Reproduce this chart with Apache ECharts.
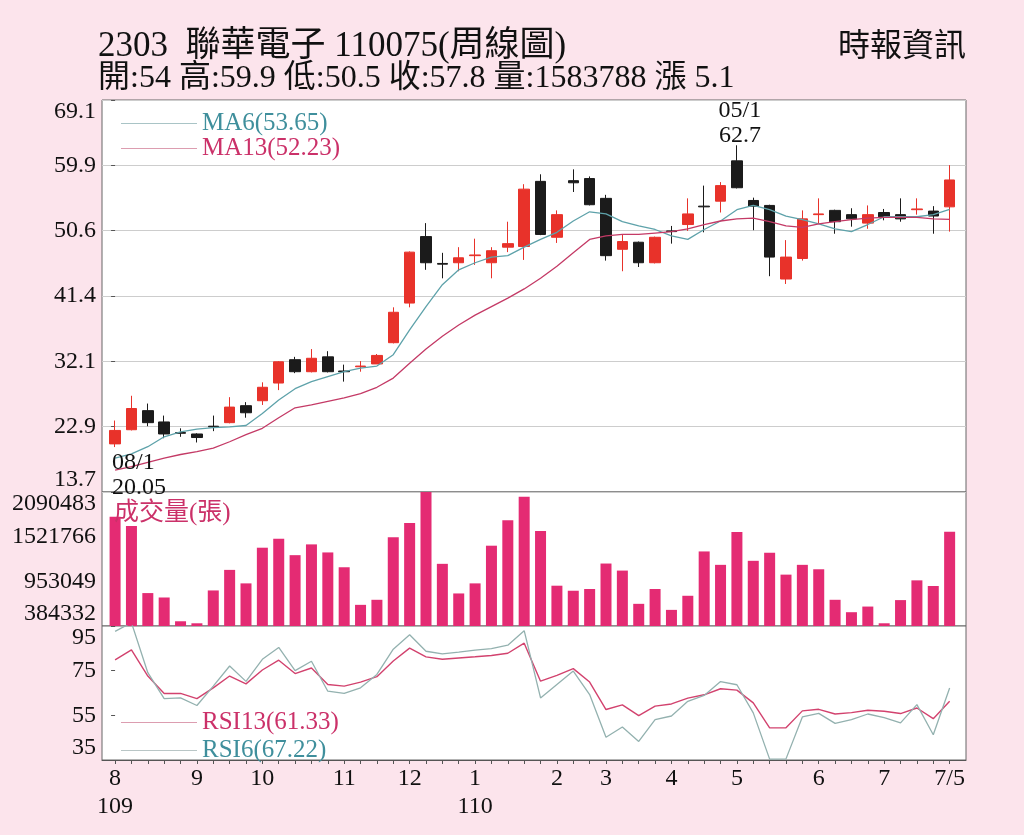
<!DOCTYPE html>
<html>
<head>
<meta charset="utf-8">
<title>聯華電子 周線圖</title>
<script src="https://cdn.jsdelivr.net/npm/echarts@6.0.0/dist/echarts.min.js"></script>
<style>
  html, body { margin: 0; padding: 0; background: #fce4ec; }
  #chart { width: 1024px; height: 835px; }
</style>
</head>
<body>
<div id="chart"></div>
<script>
const SERIF = 'Liberation Serif, "Noto Sans CJK TC", serif';

// 週K: 開, 收, 低, 高
const ohlc = [
  [20.5, 22.4, 20.05, 23.8], [22.5, 25.5, 22.4, 27.3], [25.2, 23.5, 23.0, 26.2], [23.6, 21.9, 21.3, 24.5],
  [22.1, 22.0, 21.5, 22.7], [21.9, 21.4, 20.7, 22.0], [23.0, 22.9, 22.3, 24.5], [23.5, 25.7, 23.4, 27.1],
  [25.9, 24.9, 24.2, 26.4], [26.6, 28.5, 26.0, 29.2], [29.1, 32.1, 28.1, 32.2], [32.4, 30.7, 30.5, 32.8],
  [30.7, 32.6, 30.6, 33.9], [32.8, 30.7, 30.6, 33.6], [30.8, 30.7, 29.3, 31.7], [31.4, 31.5, 30.7, 32.2],
  [31.8, 33.0, 31.8, 33.2], [34.8, 39.1, 34.7, 39.8], [40.4, 47.6, 39.8, 47.7], [49.8, 46.1, 45.1, 51.7],
  [46.0, 45.9, 43.9, 47.5], [46.1, 46.8, 44.9, 48.3], [47.1, 47.2, 45.8, 49.5], [46.1, 47.8, 43.9, 48.3],
  [48.3, 48.8, 47.6, 51.9], [48.4, 56.5, 46.5, 57.2], [57.6, 50.1, 50.0, 58.6], [49.7, 52.9, 48.9, 53.5],
  [57.7, 57.4, 56.1, 59.3], [58.0, 54.3, 54.2, 58.3], [55.2, 47.1, 46.4, 55.7], [48.0, 49.1, 44.9, 50.1],
  [49.0, 46.1, 45.5, 49.1], [46.1, 49.7, 46.0, 49.8], [50.6, 50.5, 48.8, 51.3], [51.5, 53.0, 50.6, 55.2],
  [54.1, 54.0, 50.4, 57.0], [54.8, 57.0, 53.2, 57.5], [60.5, 56.7, 56.6, 62.7], [54.9, 54.1, 50.7, 55.3],
  [54.2, 46.9, 44.2, 54.3], [43.8, 46.9, 43.1, 49.3], [46.7, 52.3, 46.4, 53.5], [52.9, 53.0, 51.7, 55.2],
  [53.5, 51.9, 50.2, 53.6], [52.9, 52.3, 51.2, 53.8], [51.7, 52.9, 50.9, 54.2], [53.2, 52.6, 52.1, 53.7],
  [52.9, 52.3, 51.9, 55.2], [53.6, 53.7, 52.9, 55.2], [53.4, 52.7, 50.2, 54.1], [54.0, 57.8, 50.5, 59.9]
];

const ma6 = [
  18.5, 19.1, 20.1, 21.5, 22.2, 22.6, 22.8, 22.9, 23.1, 24.8, 26.7, 28.3, 29.3,
  30.0, 30.7, 31.2, 31.5, 33.1, 36.6, 39.9, 43.0, 45.1, 46.1, 46.9, 47.1, 48.3,
  49.4, 50.4, 52.0, 53.3, 53.0, 51.9, 51.3, 50.8, 49.9, 49.4, 50.8, 52.0, 53.6,
  54.2, 53.6, 52.7, 52.2, 51.6, 50.9, 50.5, 51.5, 52.6, 52.6, 52.6, 52.9, 53.65
];

const ma13 = [
  16.8, 17.3, 17.9, 18.5, 19.0, 19.4, 19.9, 20.8, 21.8, 22.7, 24.2, 25.6, 26.0,
  26.5, 27.0, 27.6, 28.5, 29.8, 31.9, 33.9, 35.7, 37.3, 38.7, 39.9, 41.1, 42.4,
  43.9, 45.6, 47.5, 49.4, 49.9, 50.1, 50.1, 50.3, 50.5, 50.9, 51.5, 52.0, 52.3,
  52.4, 51.9, 51.3, 51.1, 51.6, 51.9, 52.2, 52.4, 52.5, 52.5, 52.5, 52.3, 52.23
];

const volume = [
  1773800, 1658300, 803500, 747300, 444600, 419000, 837100, 1098800, 927000, 1381200,
  1496500, 1286300, 1423500, 1321000, 1132300, 653700, 718000, 1513300, 1696900, 2090483,
  1175900, 798800, 927000, 1406800, 1731500, 2030400, 1594200, 897400, 833300, 855100,
  1179700, 1090000, 666600, 855100, 589600, 769200, 1333700, 1163000, 1581400, 1214300,
  1317000, 1038400, 1163000, 1106700, 718000, 560000, 631900, 419000, 714100, 965500,
  893600, 1583788
];

const rsi13 = [
  79.8, 84.3, 72.6, 64.8, 64.8, 62.5, 67.3, 72.6, 69.1, 75.3, 79.7, 73.7, 76.2,
  68.8, 68.1, 69.9, 72.3, 79.3, 85.1, 81.2, 80.1, 80.7, 81.2, 81.8, 82.8, 87.3,
  70.3, 72.9, 75.9, 69.9, 57.6, 59.7, 54.9, 59.1, 60.1, 62.7, 64.2, 66.9, 66.3,
  60.6, 49.4, 49.4, 57.0, 57.7, 55.6, 56.2, 57.3, 56.8, 55.8, 58.3, 53.5, 61.33
];

const rsi6 = [
  92.6, 96.5, 74.1, 62.5, 62.8, 59.4, 68.1, 77.1, 70.2, 80.1, 85.4, 75.0, 79.2,
  65.8, 64.8, 67.3, 73.3, 84.6, 91.1, 83.7, 82.5, 83.3, 84.2, 84.9, 86.4, 92.9,
  62.8, 68.8, 74.8, 64.3, 45.2, 49.8, 43.3, 53.1, 54.7, 61.3, 63.9, 70.1, 68.7,
  56.1, 35.4, 35.5, 54.3, 55.9, 51.4, 53.1, 55.6, 54.0, 51.6, 59.8, 46.3, 67.22
];

const monthTickIdx = [0, 5, 9, 14, 18, 22, 27, 30, 34, 38, 43, 47, 51];
const monthTickText = ['8\n109', '9', '10', '11', '12', '1\n110', '2', '3', '4', '5', '6', '7', '7/5'];

const priceTicks = ['13.7', '22.9', '32.1', '41.4', '50.6', '59.9', '69.1'];
const volumeTicks = [384332, 953049, 1521766, 2090483];
const rsiTicks = [35, 55, 75, 95];

// 最低 / 最高 標記
const markIdx = [0, 38];
const markDate = ['08/1', '05/1'];
const markPrice = [20.05, 62.7];

const last = ohlc[ohlc.length - 1];
const prevClose = ohlc[ohlc.length - 2][1];
const headline2 = '開:' + last[0] + ' 高:' + last[3] + ' 低:' + last[2] + ' 收:' + last[1] +
  ' 量:' + volume[volume.length - 1] + ' 漲 ' + (last[1] - prevClose).toFixed(1);

const C_MA6 = '#5ea2aa', C_MA13 = '#c43a66', C_RSI6 = '#93b1af', C_RSI13 = '#d2426e';
const T_TEAL = '#3f8f9c', T_RED = '#cb3169';

const chart = echarts.init(document.getElementById('chart'));

const xBase = {
  type: 'value', min: -0.8, max: 52,
  axisLine: { show: false }, axisTick: { show: false },
  axisLabel: { show: false }, splitLine: { show: false }
};

const yBase = {
  type: 'value',
  axisLine: { show: false },
  axisTick: { show: true, length: 4, lineStyle: { color: '#555' } },
  axisLabel: {
    fontFamily: SERIF, fontSize: 24, color: '#111', margin: 6,
    verticalAlignMinLabel: 'bottom', verticalAlignMaxLabel: 'top'
  },
  splitLine: { show: false }
};

const nearest = (arr, v) => arr.reduce((a, b) => Math.abs(b - v) < Math.abs(a - v) ? b : a);

const gridBase = { left: 102, right: 58, show: true, backgroundColor: '#fff', borderColor: '#666', borderWidth: 1 };

const option = {
  animation: false,
  backgroundColor: '#fce4ec',
  title: [
    { text: '2303  聯華電子 110075(周線圖)', left: 98, top: 29, padding: 0,
      textStyle: { fontFamily: SERIF, fontSize: 35, fontWeight: 'normal', color: '#111' } },
    { text: headline2, left: 98, top: 63, padding: 0,
      textStyle: { fontFamily: SERIF, fontSize: 32, fontWeight: 'normal', color: '#111' } },
    { text: '時報資訊', right: 58, top: 32, padding: 0,
      textStyle: { fontFamily: SERIF, fontSize: 32, fontWeight: 'normal', color: '#111' } },
    { text: '成交量(張)', left: 114, top: 501, padding: 0,
      textStyle: { fontFamily: SERIF, fontSize: 25, fontWeight: 'normal', color: T_RED } }
  ],
  legend: [
    {
      orient: 'vertical', left: 116, top: 106, itemWidth: 76, itemHeight: 1, itemGap: 0,
      icon: 'rect', selectedMode: false,
      textStyle: { fontFamily: SERIF, fontSize: 25, lineHeight: 24 },
      data: [
        { name: 'MA6(' + ma6[ma6.length - 1].toFixed(2) + ')', itemStyle: { color: '#a9c4c6' }, textStyle: { color: T_TEAL } },
        { name: 'MA13(' + ma13[ma13.length - 1].toFixed(2) + ')', itemStyle: { color: '#dc9db0' }, textStyle: { color: T_RED } }
      ]
    },
    {
      orient: 'vertical', left: 116, top: 705, itemWidth: 76, itemHeight: 1, itemGap: 3,
      icon: 'rect', selectedMode: false,
      textStyle: { fontFamily: SERIF, fontSize: 25, lineHeight: 24 },
      data: [
        { name: 'RSI13(' + rsi13[rsi13.length - 1].toFixed(2) + ')', itemStyle: { color: '#dc9db0' }, textStyle: { color: T_RED } },
        { name: 'RSI6(' + rsi6[rsi6.length - 1].toFixed(2) + ')', itemStyle: { color: '#b9c6c6' }, textStyle: { color: T_TEAL } }
      ]
    }
  ],
  grid: [
    Object.assign({}, gridBase, { top: 100, height: 392 }),
    Object.assign({}, gridBase, { top: 492, height: 134 }),
    Object.assign({}, gridBase, { top: 626, height: 134 })
  ],
  xAxis: [
    Object.assign({}, xBase, { gridIndex: 0 }),
    Object.assign({}, xBase, { gridIndex: 1 }),
    Object.assign({}, xBase, {
      gridIndex: 2,
      axisLine: { show: true, lineStyle: { color: '#555' } },
      axisTick: { show: true, length: 4, customValues: ohlc.map((d, i) => i), lineStyle: { color: '#555' } },
      axisLabel: {
        show: true, customValues: monthTickIdx,
        formatter: v => monthTickText[monthTickIdx.indexOf(Math.round(v))],
        fontFamily: SERIF, fontSize: 24, lineHeight: 28, color: '#111', margin: 5
      }
    })
  ],
  yAxis: [
    Object.assign({}, yBase, {
      gridIndex: 0, min: +priceTicks[0], max: +priceTicks[priceTicks.length - 1], interval: 9.2334,
      splitLine: { show: true, lineStyle: { color: '#cdcdcd', width: 1 } },
      axisLabel: Object.assign({}, yBase.axisLabel, {
        formatter: v => nearest(priceTicks.map(Number), v).toFixed(1)
      })
    }),
    Object.assign({}, yBase, {
      gridIndex: 1, min: volumeTicks[0], max: volumeTicks[volumeTicks.length - 1],
      interval: volumeTicks[1] - volumeTicks[0],
      axisLabel: Object.assign({}, yBase.axisLabel, { formatter: v => String(nearest(volumeTicks, v)) })
    }),
    Object.assign({}, yBase, {
      gridIndex: 2, min: rsiTicks[0], max: rsiTicks[rsiTicks.length - 1],
      interval: rsiTicks[1] - rsiTicks[0],
      axisLabel: Object.assign({}, yBase.axisLabel, { formatter: v => String(nearest(rsiTicks, v)) })
    })
  ],
  series: [
    {
      type: 'candlestick', xAxisIndex: 0, yAxisIndex: 0, barWidth: 11,
      data: ohlc.map((d, i) => [i].concat(d)),
      itemStyle: { color: '#e8322a', color0: '#1b1b1b', borderColor: '#e8322a', borderColor0: '#1b1b1b', borderWidth: 1 },
      markPoint: {
        symbol: 'rect', symbolSize: 1,
        itemStyle: { color: 'rgba(0,0,0,0)' },
        label: { fontFamily: SERIF, fontSize: 24, lineHeight: 25, color: '#111' },
        data: [
          { coord: [markIdx[0], markPrice[0]],
            label: { formatter: markDate[0] + '\n' + markPrice[0], position: 'bottom', align: 'left', distance: 3, offset: [-3, 0] } },
          { coord: [markIdx[1], markPrice[1]],
            label: { formatter: markDate[1] + '\n' + markPrice[1], position: 'top', distance: -3, offset: [3, 0] } }
        ]
      }
    },
    {
      name: 'MA6(' + ma6[ma6.length - 1].toFixed(2) + ')', type: 'line', xAxisIndex: 0, yAxisIndex: 0, z: 3,
      data: ma6.map((v, i) => [i, v]), symbol: 'none', color: C_MA6, lineStyle: { width: 1.3, color: C_MA6 }
    },
    {
      name: 'MA13(' + ma13[ma13.length - 1].toFixed(2) + ')', type: 'line', xAxisIndex: 0, yAxisIndex: 0, z: 3,
      data: ma13.map((v, i) => [i, v]), symbol: 'none', color: C_MA13, lineStyle: { width: 1.3, color: C_MA13 }
    },
    {
      name: '成交量(張)', type: 'bar', xAxisIndex: 1, yAxisIndex: 1, barWidth: 11, clip: true,
      data: volume.map((v, i) => [i, v]), itemStyle: { color: '#e42b73' }
    },
    {
      name: 'RSI13(' + rsi13[rsi13.length - 1].toFixed(2) + ')', type: 'line', xAxisIndex: 2, yAxisIndex: 2, clip: true,
      data: rsi13.map((v, i) => [i, v]), symbol: 'none', color: C_RSI13, lineStyle: { width: 1.4, color: C_RSI13 }
    },
    {
      name: 'RSI6(' + rsi6[rsi6.length - 1].toFixed(2) + ')', type: 'line', xAxisIndex: 2, yAxisIndex: 2, clip: true,
      data: rsi6.map((v, i) => [i, v]), symbol: 'none', color: C_RSI6, lineStyle: { width: 1.3, color: C_RSI6 }
    }
  ]
};

chart.setOption(option);
</script>
</body>
</html>
